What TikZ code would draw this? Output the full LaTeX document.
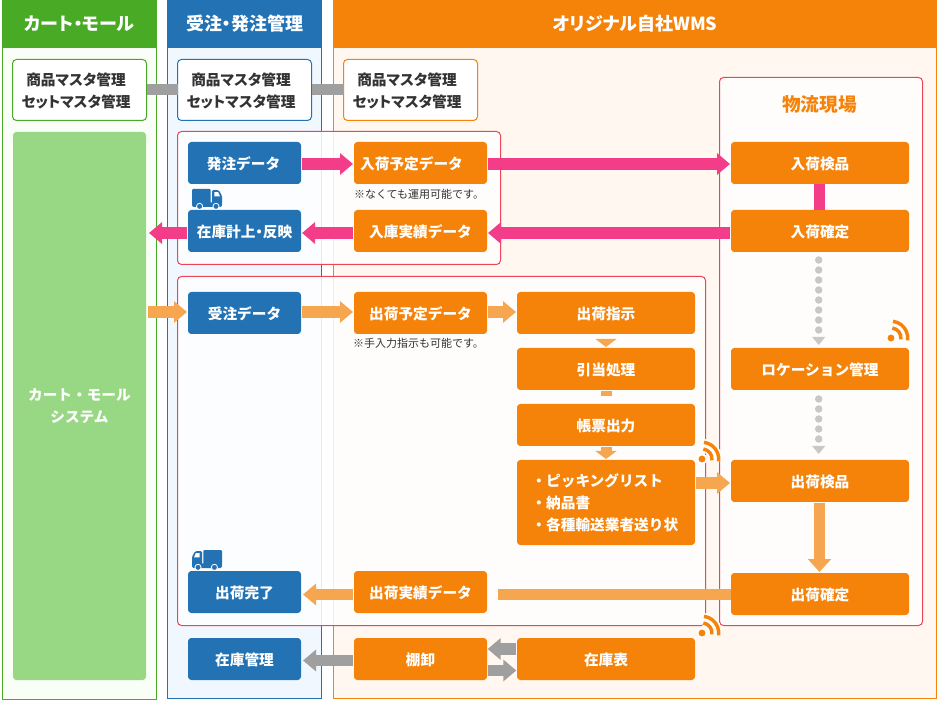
\documentclass[tikz,border=0pt]{standalone}
\usepackage{fontspec}
\setmainfont{Noto Sans CJK JP}
\newfontfamily\pf{Noto Sans CJK JP}[RawFeature=+palt]
\usetikzlibrary{arrows.meta,calc}
\definecolor{cg}{HTML}{48AA25}
\definecolor{cb}{HTML}{2272B4}
\definecolor{co}{HTML}{F5830A}
\definecolor{cgl}{HTML}{F9FEF7}
\definecolor{cbl}{HTML}{F0F7FE}
\definecolor{col}{HTML}{FFF7F0}
\definecolor{cgb}{HTML}{98D884}
\definecolor{cred}{HTML}{EE4455}
\definecolor{cpink}{HTML}{F43D88}
\definecolor{clo}{HTML}{F7A650}
\definecolor{cgray}{HTML}{9F9F9F}
\definecolor{cdot}{HTML}{C8C8C8}
\definecolor{ctx}{HTML}{333333}
\newcommand{\rb}[7]{\node[#1,minimum width={(#5-#3)*0.75pt},minimum height={(#6-#4)*0.75pt}] (#2) at ({(#3+#5)/2},{(#4+#6)/2}) {#7};}
\tikzset{
  base/.style={inner sep=0pt,outer sep=0pt,rectangle},
  head/.style={base,font=\pf\bfseries\fontsize{13.5pt}{16pt}\selectfont,text=white},
  colbody/.style={base,draw=#1,line width=0.75pt},
  master/.style={base,draw=#1,fill=white,line width=0.75pt,rounded corners=3pt},
  mtext/.style={base,align=center,text=ctx,font=\pf\bfseries\fontsize{11pt}{16.5pt}\selectfont},
  panel/.style={base,draw=cred,line width=0.75pt,fill=white,fill opacity=0.86,rounded corners=3pt},
  boxtext/.style={text=white,font=\bfseries\fontsize{11pt}{16.5pt}\selectfont,text height=10.5pt,text depth=0.5pt},
  bl/.style={base,fill=cb,rounded corners=2.5pt,boxtext},
  or/.style={base,fill=co,rounded corners=2.5pt,boxtext},
  blockarrow/.style={draw=#1,line width=8.5pt,-{Triangle[length=9.75pt,width=15.75pt]},shorten <=0.75pt,shorten >=0.75pt},
  note/.style={base,anchor=west,text=ctx,font=\fontsize{8.25pt}{10pt}\selectfont},
  bar/.style={draw=#1,line width=8.5pt},
  dotline/.style={draw=cdot,line width=5.6pt,line cap=round,dash pattern=on 0pt off 7.5pt},
  truck/.pic={
    \fill[cb,rounded corners=0.8pt] (0pt,0pt) rectangle (14pt,-11.5pt);
    \fill[cb,rounded corners=1.5pt] (0pt,-10pt) rectangle (22.5pt,-13.5pt);
    \fill[cb,rounded corners=1pt] (15pt,-0.8pt) -- (20pt,-0.8pt) -- (22.5pt,-5pt) -- (22.5pt,-12pt) -- (15pt,-12pt) -- cycle;
    \fill[white] (16.8pt,-2.3pt) -- (19.6pt,-2.3pt) -- (21pt,-5.6pt) -- (16.8pt,-5.6pt) -- cycle;
    \fill[cb,draw=white,line width=0.6pt] (5.7pt,-13pt) circle (2.3pt);
    \fill[cb,draw=white,line width=0.6pt] (18pt,-13pt) circle (2.3pt);
  },
  wifi/.pic={
    \draw[white,line width=5pt] (1pt,7.5pt) arc[start angle=82,end angle=-8,radius=7.5pt];
    \draw[white,line width=5pt] (1.5pt,12.5pt) arc[start angle=83,end angle=-8,radius=12.6pt];
    \fill[white] (0pt,0pt) circle (4pt);
    \draw[co,line width=2.6pt] (1pt,7.5pt) arc[start angle=82,end angle=-8,radius=7.5pt];
    \draw[co,line width=2.6pt] (1.5pt,12.5pt) arc[start angle=83,end angle=-8,radius=12.6pt];
    \fill[co] (0pt,0pt) circle (2.6pt);
  },
}
\begin{document}
\begin{tikzpicture}[x=0.75pt,y=-0.75pt]
\useasboundingbox[fill=white] (0,0) rectangle (940,702);
% columns
\rb{colbody=cg,fill=cgl}{c1}{2.5}{20}{156.5}{699.5}{}
\rb{colbody=cb,fill=cbl}{c2}{167.5}{20}{321.5}{698.5}{}
\rb{colbody=co,fill=col}{c3}{333.5}{20}{936.5}{698.5}{}
\rb{head,fill=cg}{h1}{2}{0}{157}{48}{カート・モール}
\rb{head,fill=cb}{h2}{167}{0}{322}{48}{受注・発注管理}
\rb{head,fill=co}{h3}{333}{0}{937}{48}{オリジナル自社WMS}
% panels
\rb{panel}{p1}{177.5}{131.5}{500.5}{264.5}{}
\rb{panel}{p2}{177.5}{276.5}{705.5}{625.5}{}
\rb{panel}{p3}{719.5}{77.5}{922.5}{625.5}{}
% masters
\rb{master=cg}{m1}{12.5}{59.5}{146.5}{120.5}{}
\rb{master=cb}{m2}{177.5}{59.5}{311.5}{120.5}{}
\rb{master=co}{m3}{343.5}{59.5}{477.5}{120.5}{}
\node[mtext] (mt1) at ($(m1.center)+(-3.5,0.5)$) {商品マスタ管理\\セットマスタ管理};
\node[mtext] (mt2) at ($(m2.center)+(-3.5,0.5)$) {商品マスタ管理\\セットマスタ管理};
\node[mtext] (mt3) at ($(m3.center)+(-3.5,0.5)$) {商品マスタ管理\\セットマスタ管理};
\draw[cgray,line width=8.25pt] (m1.east) -- (m2.west);
\draw[cgray,line width=8.25pt] (m2.east) -- (m3.west);
% green block
\rb{base,fill=cgb,rounded corners=2.5pt,text=white,align=center,font=\bfseries\fontsize{11pt}{16.5pt}\selectfont}{cart}{13}{132}{146}{680}{\raisebox{-0.75pt}{カート・モール}\\\raisebox{-0.75pt}{システム}}
% nodes
\rb{bl}{po}{188}{142}{301}{184}{\hspace*{-1.5pt}発注データ}
\rb{or}{inplan}{354}{142}{487}{184}{入荷予定データ\hspace*{13.5pt}}
\rb{bl}{stock}{188}{210}{301}{252}{\pf 在庫計上・反映}
\rb{or}{inres}{354}{210}{487}{252}{入庫実績データ}
\rb{or}{insp}{731}{142}{909}{184}{入荷検品}
\rb{or}{inconf}{731}{210}{909}{252}{入荷確定}
\rb{bl}{so}{188}{292}{301}{334}{受注データ}
\rb{or}{outplan}{354}{292}{487}{334}{出荷予定データ}
\rb{or}{instr}{517}{292}{695}{334}{出荷指示}
\rb{or}{alloc}{517}{348}{695}{390}{引当処理}
\rb{or}{forms}{517}{404}{695}{446}{帳票出力}
\rb{or}{lst}{517}{460}{695}{545}{}
\node[base,anchor=west,align=left,text=white,font=\bfseries\fontsize{11pt}{16.5pt}\selectfont] (lsttext) at ($(lst.west)+(14.5,0.5)$) {・ピッキングリスト\\・納品書\\・各種輸送業者送り状};
\rb{or}{loc}{731}{348}{909}{390}{ロケーション管理}
\rb{or}{outinsp}{731}{460}{909}{502}{出荷検品}
\rb{or}{outconf}{731}{573}{909}{615}{出荷確定}
\rb{bl}{done}{188}{571}{301}{613}{出荷完了}
\rb{or}{outres}{354}{571}{487}{613}{出荷実績データ}
\rb{bl}{inv}{188}{638}{301}{680}{在庫管理}
\rb{or}{count}{354}{638}{487}{680}{棚卸}
\rb{or}{invlist}{517}{638}{695}{680}{在庫表}
\node[base,text=co,font=\pf\bfseries\fontsize{14pt}{16pt}\selectfont] (site) at (819.5,104.5) {物流現場};
\node[note] (n1) at (354,194) {※なくても運用可能です。};
\node[note] (n2) at (353,343) {※手入力指示も可能です。};
% pink arrows
\draw[blockarrow=cpink] ($(po.east)+(0,1)$) -- ($(inplan.west)+(0,1)$);
\draw[blockarrow=cpink] ($(inplan.east)+(0,1)$) -- ($(insp.west)+(0,1)$);
\draw[blockarrow=cpink] ($(inconf.west)+(0,2)$) -- ($(inres.east)+(0,2)$);
\draw[blockarrow=cpink] ($(inres.west)+(0,2)$) -- ($(stock.east)+(0,2)$);
\coordinate (mallend) at (148,233);
\draw[blockarrow=cpink] ($(stock.west)+(0,2)$) -- (mallend);
\draw[bar=cpink] ($(insp.south)+(-0.5,0)$) -- ($(inconf.north)+(-0.5,0)$);
% light orange arrows
\coordinate (mallout) at (147,312);
\draw[blockarrow=clo] (mallout) -- ($(so.west)+(0,-1)$);
\draw[blockarrow=clo] ($(so.east)+(0,-1)$) -- ($(outplan.west)+(0,-1)$);
\draw[blockarrow=clo] ($(outplan.east)+(0,-1)$) -- ($(instr.west)+(0,-1)$);
\fill[clo] ($(instr.south)+(-10.5,5)$) -- ($(instr.south)+(10.5,5)$) -- ($(alloc.north)+(0,-1)$) -- cycle;
\draw[draw=clo,line width=8.25pt,shorten <=0.75pt,shorten >=6pt] (alloc.south) -- (forms.north);
\draw[draw=clo,line width=8.25pt,-{Triangle[length=6pt,width=15.75pt]},shorten <=0.75pt,shorten >=0.75pt] (forms.south) -- (lst.north);
\draw[blockarrow=clo] ($(lst.east|-outinsp.west)+(0,2)$) -- ($(outinsp.west)+(0,2)$);
\draw[draw=clo,line width=8.25pt,-{Triangle[length=9.75pt,width=17pt]},shorten <=0.75pt,shorten >=0.75pt] ($(outinsp.south)+(-0.5,0)$) -- ($(outconf.north)+(-0.5,0)$);
\draw[bar=clo] ($(outconf.west)+(0,0.5)$) -- ($(outres.east)+(11,2.5)$);
\draw[blockarrow=clo] ($(outres.west)+(0,2.5)$) -- ($(done.east)+(1,2.5)$);
% gray arrows
\draw[blockarrow=cgray] ($(count.west)+(0,1.5)$) -- ($(inv.east)+(1,1.5)$);
\draw[blockarrow=cgray,shorten >=0.5pt,shorten <=0.5pt] ($(invlist.west)+(0,-10)$) -- ($(count.east)+(0,-10)$);
\draw[blockarrow=cgray,shorten >=0.5pt,shorten <=0.5pt] ($(count.east)+(0,11.5)$) -- ($(invlist.west)+(0,11.5)$);
% dotted
\draw[dotline] ($(inconf.south)+(-1.3,8)$) -- ($(loc.north)+(-1.3,-17.8)$);
\fill[cdot] ($(loc.north)+(-7.8,-11)$) -- ($(loc.north)+(5.2,-11)$) -- ($(loc.north)+(-1.3,-3)$) -- cycle;
\draw[dotline] ($(loc.south)+(-1.3,9)$) -- ($(outinsp.north)+(-1.3,-20.8)$);
\fill[cdot] ($(outinsp.north)+(-7.8,-14)$) -- ($(outinsp.north)+(5.2,-14)$) -- ($(outinsp.north)+(-1.3,-6)$) -- cycle;
% icons
\pic at (192,189) {truck};
\pic[xscale=-1] at (222,550) {truck};
\pic at (891,338) {wifi};
\pic at (702,459) {wifi};
\pic at (702,633) {wifi};
\end{tikzpicture}
\end{document}
